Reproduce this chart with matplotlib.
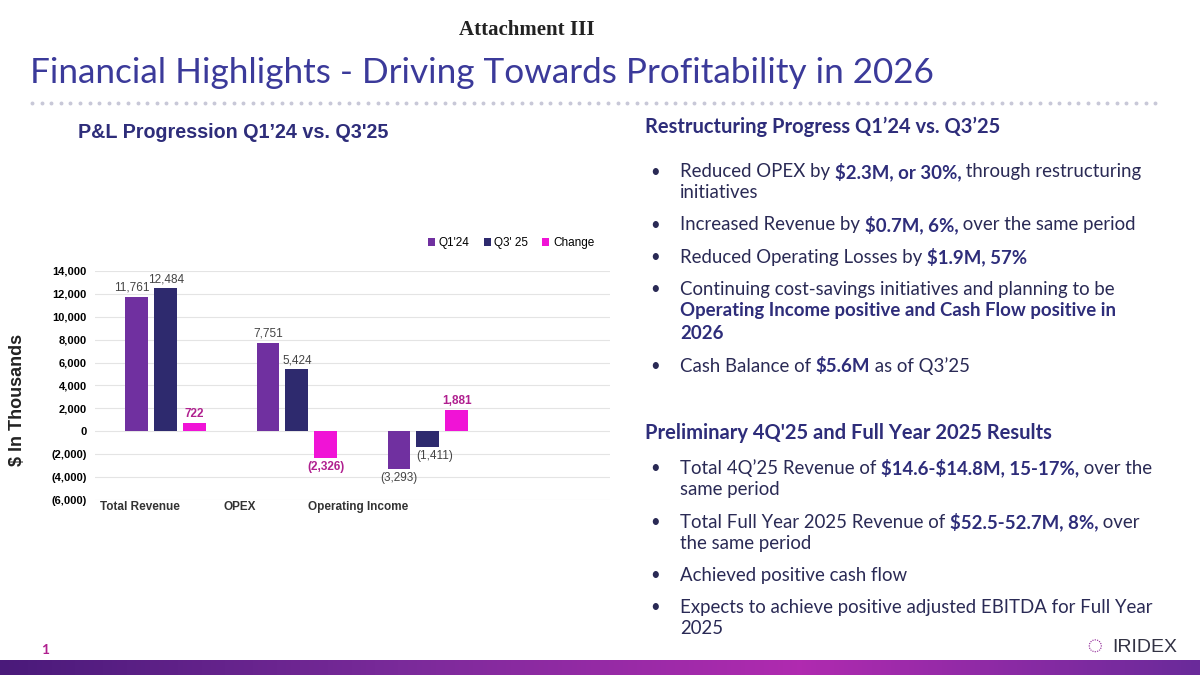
import numpy as np
import matplotlib.pyplot as plt
from matplotlib.colors import LinearSegmentedColormap

categories = ["Total Revenue", "OPEX", "Operating Income"]
q1_24 = [11761, 7751, -3293]
q3_25 = [12484, 5424, -1411]
change = [722, -2326, 1881]

C_Q1 = "#7030A0"
C_Q3 = "#2E2A6E"
C_CH = "#F013D6"
NAVY = "#2E2D7A"
TITLE = "#3B3A9A"
W, H = 1200, 675

plt.rcParams['font.family'] = ['Lato', 'DejaVu Sans']
fig = plt.figure(figsize=(12, 6.75), dpi=100)


def fx(x):
    return x / W


def fy(y):
    return 1 - y / H


def fmt(v):
    return f"({abs(v):,})" if v < 0 else f"{v:,}"


# header
fig.text(fx(527), fy(30), "Attachment III", family="Liberation Serif", weight="bold",
         size=15, ha="center", va="center", color="#222222")
fig.text(fx(30), fy(73), "Financial Highlights - Driving Towards Profitability in 2026",
         size=25.3, color=TITLE, va="center")
xs = np.arange(32, 1160, 9.6)
fig.add_artist(plt.Line2D(fx(xs), [fy(103)] * len(xs), ls="none", marker="o",
                          ms=1.8, color="#C8C8D8", transform=fig.transFigure))
fig.text(fx(78), fy(133), "P&L Progression Q1’24 vs. Q3'25", weight="bold",
         size=14.2, color=NAVY, va="center", family=["Liberation Sans", "DejaVu Sans"])
fig.text(fx(18), fy(400), "$ In Thousands", rotation=90, weight="bold", size=13,
         ha="center", va="center", color="#222222", family=["Liberation Sans", "DejaVu Sans"])

# chart
ax = fig.add_axes([fx(95), fy(500), fx(515), (500 - 271) / H])
x = np.arange(len(categories))
bw, off = 0.175, 0.22
ax.bar(x - off, q1_24, bw, color=C_Q1, label="Q1'24", zorder=3)
ax.bar(x, q3_25, bw, color=C_Q3, label="Q3' 25", zorder=3)
ax.bar(x + off, change, bw, color=C_CH, label="Change", zorder=3)
ax.set_ylim(-6000, 14000)
ax.set_xlim(-0.54, 3.39)
ax.set_yticks(range(-6000, 14001, 2000))
ax.set_yticklabels([fmt(v) if v else "0" for v in range(-6000, 14001, 2000)],
                   family=["Liberation Sans", "DejaVu Sans"], weight="bold", size=8)
ax.set_xticks([])
ax.grid(axis="y", color="#E4E4E4", lw=0.8, zorder=0)
for s in ax.spines.values():
    s.set_visible(False)
ax.tick_params(length=0, pad=6)
for i in range(len(categories)):
    for dx, v, c, w in [(-off, q1_24[i], "#444444", "normal"), (0, q3_25[i], "#444444", "normal"),
                        (off, change[i], "#B0208F", "bold")]:
        ha = "right" if (dx < 0 and v > 0 and i == 0) else "center"
        xp = x[i] + dx + (0.1 if ha == "right" else 0)
        if dx == 0 and v < 0:
            xp += 0.05
        ax.text(xp, v + (250 if v > 0 else -250), fmt(v), ha=ha,
                va="bottom" if v > 0 else "top", size=8.5, color=c, weight=w,
                family=["Liberation Sans", "DejaVu Sans"])
ax.legend(loc="lower right", bbox_to_anchor=(0.99, 1.05), ncol=3, frameon=False,
          handlelength=0.6, handleheight=0.6, columnspacing=1.2, handletextpad=0.3,
          prop={"family": "Liberation Sans", "size": 8.5})
for lab, px in zip(categories, [140, 240, 358]):
    fig.text(fx(px), fy(507), lab, ha="center", va="center", weight="bold", size=8.5,
             color="#333333", family=["Liberation Sans", "DejaVu Sans"])

# right text
fig.canvas.draw()
r = fig.canvas.get_renderer()


def rich(xp, yp, parts, size=13.4):
    cur = fx(xp)
    for txt, bold in parts:
        t = fig.text(cur, fy(yp), txt, size=size, va="center",
                     weight="bold" if bold else "normal", color=NAVY if bold else "#2A2A55")
        bb = t.get_window_extent(renderer=r)
        cur += bb.width / W


fig.text(fx(645), fy(127), "Restructuring Progress Q1’24 vs. Q3’25", weight="bold",
         size=14.5, color=NAVY, va="center")
fig.text(fx(645), fy(433), "Preliminary 4Q'25 and Full Year 2025 Results", weight="bold",
         size=14.5, color=NAVY, va="center")
lines = [
    (172, True, [("Reduced OPEX by ", 0), (r"\$2.3M, or 30%,", 1), (" through restructuring", 0)]),
    (193, False, [("initiatives", 0)]),
    (225, True, [("Increased Revenue by ", 0), (r"\$0.7M, 6%,", 1), (" over the same period", 0)]),
    (257, True, [("Reduced Operating Losses by ", 0), (r"\$1.9M, 57%", 1)]),
    (289, True, [("Continuing cost-savings initiatives and planning to be", 0)]),
    (311, False, [("Operating Income positive and Cash Flow positive in", 1)]),
    (333, False, [("2026", 1)]),
    (366, True, [("Cash Balance of ", 0), (r"\$5.6M", 1), (" as of Q3’25", 0)]),
    (468, True, [("Total 4Q’25 Revenue of ", 0), (r"\$14.6-\$14.8M, 15-17%,", 1), (" over the", 0)]),
    (489, False, [("same period", 0)]),
    (522, True, [("Total Full Year 2025 Revenue of ", 0), (r"\$52.5-52.7M, 8%,", 1), (" over", 0)]),
    (543, False, [("the same period", 0)]),
    (575, True, [("Achieved positive cash flow", 0)]),
    (607, True, [("Expects to achieve positive adjusted EBITDA for Full Year", 0)]),
    (628, False, [("2025", 0)]),
]
for yp, bullet, parts in lines:
    if bullet:
        fig.text(fx(650), fy(yp), "•", size=12, va="center", color="#2A2A55")
    rich(680, yp, parts)

# footer
fig.text(fx(45), fy(650), "1", color="#B0208F", weight="bold", size=10, ha="center", va="center")
fig.text(fx(1112), fy(647), "IRIDEX", size=14, color="#333344", va="center",
         family="Liberation Sans")
fig.text(fx(1095), fy(647), "◌", size=18, color="#9A3AA0", va="center", ha="center")
gax = fig.add_axes([0, 0, 1, 15 / H])
cmap = LinearSegmentedColormap.from_list("g", ["#4A1A7A", "#7A2A9A", "#B02AB0", "#6A2A9A"])
gax.imshow(np.linspace(0, 1, 256)[None, :], aspect="auto", cmap=cmap)
gax.axis("off")

fig.savefig("out.png", dpi=100)
